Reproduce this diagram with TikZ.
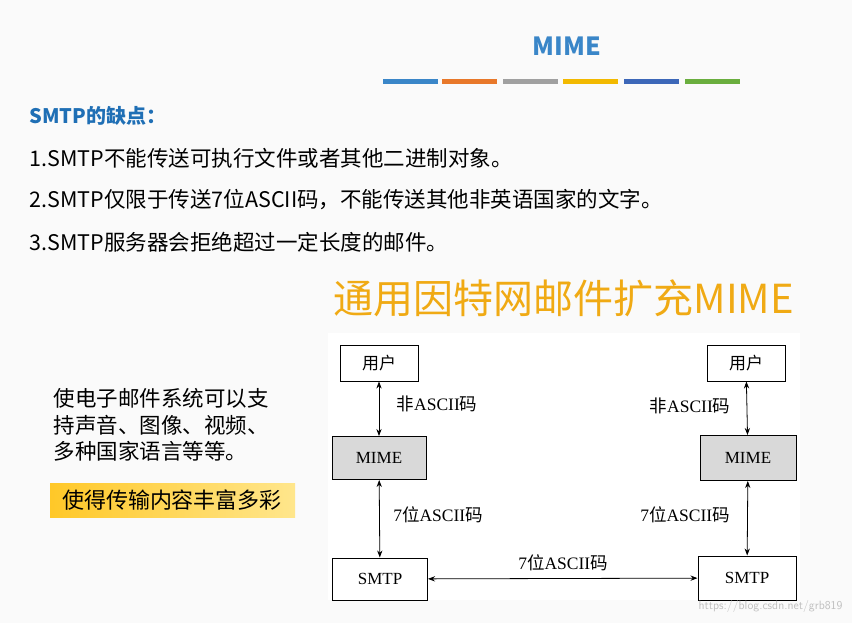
\documentclass[tikz,border=0pt]{standalone}
\usepackage{fontspec}
\setmainfont{Liberation Serif}
\newfontfamily\cjk{Noto Sans CJK SC}
\usetikzlibrary{arrows.meta}
\definecolor{tblue}{HTML}{3A86C8}
\definecolor{hblue}{HTML}{1F6FB5}
\definecolor{c1}{HTML}{3A86C8}\definecolor{c2}{HTML}{E8782A}\definecolor{c3}{HTML}{A0A0A0}
\definecolor{c4}{HTML}{F2B900}\definecolor{c5}{HTML}{3C67B8}\definecolor{c6}{HTML}{6AAE3E}
\tikzset{
 bx/.style={draw=black,line width=1pt,minimum width=78pt,minimum height=36pt,inner sep=0pt,font=\fontsize{17}{17}\selectfont},
 mbx/.style={bx,fill=gray!30,minimum width=94pt,minimum height=43pt},
 dbl/.style={{Stealth[length=7pt]}-{Stealth[length=7pt]},line width=0.8pt},
 lbl/.style={font=\fontsize{17.5}{17.5}\selectfont},
 bar/.style={line width=5pt},
 body/.style={anchor=west,font=\cjk\fontsize{21.5}{21.5}\selectfont}
}
\begin{document}
\begin{tikzpicture}[x=1pt,y=-1pt]
\fill[gray!4] (0,0) rectangle (852,623);
\useasboundingbox (0,0) rectangle (852,623);
\node[text=tblue,font=\cjk\bfseries\fontsize{25}{25}\selectfont] (title) at (567,46) {MIME};
\foreach \x/\c in {383/c1,442/c2,503/c3,563/c4,624/c5,685/c6}
  \draw[bar,\c] (\x,82) -- ++(55,0);
\node[anchor=west,text=hblue,font=\cjk\bfseries\fontsize{20}{20}\selectfont] (h) at (26,116) {SMTP的缺点：};
\node[body] (l1) at (26,158) {1.SMTP不能传送可执行文件或者其他二进制对象。};
\node[body] (l2) at (26,200) {2.SMTP仅限于传送7位ASCII码，不能传送其他非英语国家的文字。};
\node[body] (l3) at (26,242) {3.SMTP服务器会拒绝超过一定长度的邮件。};
\node[anchor=west,text={rgb,255:red,240;green,170;blue,20},font=\cjk\fontsize{40}{40}\selectfont] (big) at (330,298) {通用因特网邮件扩充MIME};
\fill[white] (328,333) rectangle (800,600);
\node[bx] (u1) at (379,363) {\cjk 用户};
\node[mbx] (m1) at (379,458) {MIME};
\node[bx,minimum width=95pt,minimum height=42pt] (s1) at (380,579) {SMTP};
\node[bx] (u2) at (746,363) {\cjk 用户};
\node[mbx,minimum width=96pt,minimum height=45pt] (m2) at (748,458) {MIME};
\node[bx,minimum width=98pt,minimum height=44pt] (s2) at (747,578) {SMTP};
\draw[dbl] (u1) -- (m1);
\draw[dbl] (m1) -- (s1);
\draw[dbl] (u2) -- (m2);
\draw[dbl] (m2) -- (s2);
\draw[dbl] (s1) -- (s2);
\node[lbl] (a1) at (437,404) {\cjk 非\normalfont ASCII\cjk 码};
\node[lbl] (a2) at (690,406) {\cjk 非\normalfont ASCII\cjk 码};
\node[lbl] (b1) at (438,515) {7\cjk 位\normalfont ASCII\cjk 码};
\node[lbl] (b2) at (685,515) {7\cjk 位\normalfont ASCII\cjk 码};
\node[lbl] (c) at (563,563) {7\cjk 位\normalfont ASCII\cjk 码};
\node[anchor=north west,align=left,font=\cjk\fontsize{21.5}{26.5}\selectfont] (desc) at (50,385) {使电子邮件系统可以支\\持声音、图像、视频、\\多种国家语言等等。};
\shade[left color={rgb,255:red,255;green,200;blue,40},right color={rgb,255:red,255;green,230;blue,140}] (50,483) rectangle (295,517);
\node[font=\cjk\fontsize{22}{22}\selectfont] (rich) at (172,500) {使得传输内容丰富多彩};
\node[anchor=east,text=gray!50,font=\sffamily\fontsize{12}{12}\selectfont] (wm) at (846,606) {https://blog.csdn.net/grb819};
\end{tikzpicture}
\end{document}
